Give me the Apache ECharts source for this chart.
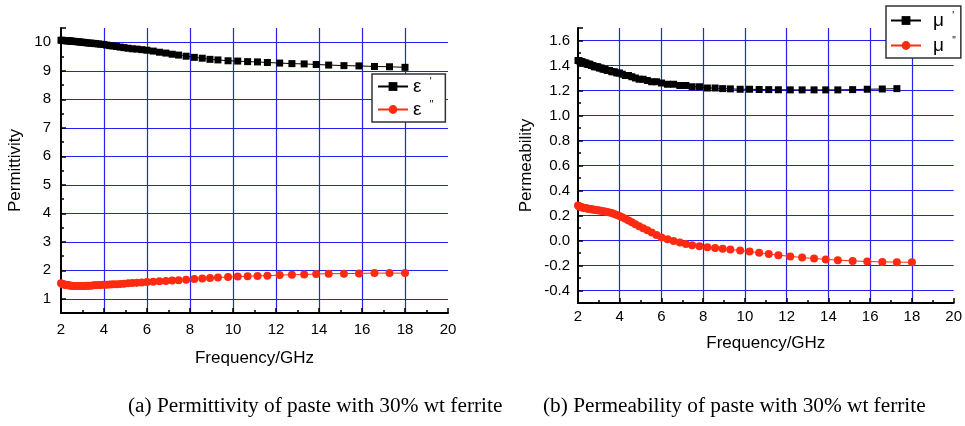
<!DOCTYPE html>
<html>
<head>
<meta charset="utf-8">
<script src="https://cdn.jsdelivr.net/npm/echarts@6/dist/echarts.min.js"></script>
<style>
html,body{margin:0;padding:0;background:#fff;}
#c{width:965px;height:426px;}
</style>
</head>
<body>
<div id="c"></div>
<script>
// Frequency points (GHz)
const freq = [2.00,2.05,2.10,2.15,2.20,2.26,2.32,2.38,2.44,2.50,
  2.57,2.64,2.71,2.78,2.86,2.94,3.02,3.11,3.20,3.30,
  3.40,3.51,3.62,3.74,3.86,3.99,4.12,4.27,4.42,4.58,
  4.75,4.93,5.12,5.32,5.53,5.76,6.00,6.29,6.58,6.88,
  7.17,7.47,7.82,8.20,8.57,8.93,9.30,9.77,10.22,10.68,
  11.14,11.60,12.17,12.74,13.31,13.87,14.45,15.16,15.86,16.58,
  17.28,18.00];

// (a) permittivity
const epsReal = [10.07,10.07,10.06,10.06,10.06,10.05,10.05,10.05,10.04,10.04,
  10.03,10.03,10.02,10.02,10.01,10.00,10.00,9.99,9.98,9.97,
  9.97,9.96,9.95,9.94,9.93,9.92,9.90,9.88,9.87,9.85,
  9.83,9.81,9.79,9.77,9.76,9.74,9.72,9.69,9.65,9.62,
  9.58,9.55,9.51,9.47,9.44,9.40,9.38,9.35,9.34,9.32,
  9.31,9.29,9.27,9.25,9.24,9.22,9.20,9.18,9.17,9.15,
  9.14,9.12];
const epsImag = [1.54,1.52,1.51,1.50,1.49,1.48,1.47,1.47,1.46,1.46,
  1.45,1.45,1.45,1.45,1.45,1.45,1.45,1.45,1.46,1.46,
  1.46,1.47,1.47,1.48,1.48,1.49,1.49,1.50,1.51,1.51,
  1.52,1.53,1.54,1.55,1.56,1.57,1.59,1.60,1.61,1.62,
  1.64,1.65,1.67,1.69,1.71,1.73,1.75,1.76,1.78,1.79,
  1.80,1.81,1.83,1.84,1.85,1.87,1.88,1.88,1.89,1.90,
  1.90,1.90];

// (b) permeability (mu' has no point at 18 GHz)
const muReal = [1.44,1.44,1.43,1.43,1.43,1.42,1.42,1.42,1.41,1.41,
  1.41,1.40,1.40,1.39,1.39,1.39,1.38,1.38,1.37,1.37,
  1.36,1.36,1.35,1.35,1.34,1.34,1.33,1.32,1.32,1.31,
  1.30,1.29,1.29,1.28,1.27,1.27,1.26,1.25,1.25,1.24,
  1.24,1.23,1.23,1.22,1.22,1.215,1.213,1.21,1.21,1.208,
  1.207,1.206,1.205,1.205,1.205,1.205,1.205,1.207,1.21,1.212,
  1.215];
const muImag = [0.28,0.275,0.27,0.268,0.265,0.263,0.26,0.258,0.256,0.254,
  0.252,0.25,0.248,0.246,0.244,0.242,0.24,0.238,0.235,0.232,
  0.229,0.225,0.22,0.213,0.205,0.196,0.186,0.174,0.16,0.146,
  0.131,0.115,0.099,0.082,0.064,0.045,0.024,0.01,-0.003,-0.016,
  -0.028,-0.037,-0.046,-0.053,-0.059,-0.066,-0.072,-0.08,-0.088,-0.098,
  -0.107,-0.117,-0.127,-0.136,-0.144,-0.151,-0.157,-0.163,-0.168,-0.171,
  -0.173,-0.174];

const xTicks = [2,4,6,8,10,12,14,16,18,20];
const captions = ['(a) Permittivity of paste with 30% wt ferrite', '(b) Permeability of paste with 30% wt ferrite'];
const names = ["ε'", 'ε"', "μ'", 'μ"'];

const pair = (ys) => ys.map((y, i) => [freq[i], y]);

const FONT = 'Liberation Sans, Arial, sans-serif';
const GRIDC = '#2323f0';

function xAxis(gi, gap, margin) {
  return {
    type: 'value', gridIndex: gi, min: xTicks[0], max: xTicks[xTicks.length - 1], interval: 2,
    axisLine: { show: true, onZero: false, lineStyle: { color: '#000', width: 2 } },
    axisTick: { show: true, inside: true, length: 5, lineStyle: { color: '#000', width: 1.5 } },
    minorTick: { show: true, splitNumber: 2, length: 3, lineStyle: { color: '#000', width: 1.5 } },
    splitLine: { show: true, showMinLine: false, showMaxLine: false, lineStyle: { color: GRIDC, width: 1.2 } },
    axisLabel: { color: '#000', fontSize: 15, fontFamily: FONT, margin: margin },
    name: 'Frequency/GHz', nameLocation: 'middle', nameGap: gap,
    nameTextStyle: { color: '#000', fontSize: 17, fontFamily: FONT }
  };
}

function yAxis(gi, min, max, split, name, gap, margin, fmt) {
  return {
    type: 'value', gridIndex: gi, min: min, max: max, splitNumber: split,
    axisLine: { show: true, onZero: false, lineStyle: { color: '#000', width: 2 } },
    axisTick: { show: true, inside: true, length: 5, lineStyle: { color: '#000', width: 1.5 } },
    minorTick: { show: true, splitNumber: 2, length: 3, lineStyle: { color: '#000', width: 1.5 } },
    splitLine: { show: true, showMinLine: false, showMaxLine: false, lineStyle: { color: GRIDC, width: 1.2 } },
    axisLabel: { color: '#000', fontSize: 15, fontFamily: FONT, margin: margin, showMinLabel: false, showMaxLabel: false, formatter: fmt },
    name: name, nameLocation: 'middle', nameGap: gap, nameRotate: 90,
    nameTextStyle: { color: '#000', fontSize: 17, fontFamily: FONT }
  };
}

function series(name, xi, data, color, symbol, size) {
  return {
    name: name, type: 'line', xAxisIndex: xi, yAxisIndex: xi, data: data,
    symbol: symbol, symbolSize: size, showAllSymbol: true,
    lineStyle: { color: color, width: 1 }, itemStyle: { color: color },
    animation: false
  };
}

function legend(data, left, top, padding, gap, textPad, sep) {
  return {
    data: data, left: left, top: top, orient: 'vertical',
    borderColor: '#333', borderWidth: 1.5, borderRadius: 0, backgroundColor: '#fff',
    padding: padding, itemGap: gap, itemWidth: 30, itemHeight: 11,
    textStyle: { color: '#000', fontSize: 15, fontFamily: FONT, lineHeight: 14,
      rich: {
        a: { fontSize: 19, color: '#000', fontFamily: FONT, lineHeight: 14, padding: [0, 0, 0, textPad] },
        p: { fontSize: 10, color: '#000', fontFamily: FONT, lineHeight: 14, padding: [0, 0, 9, 0] }
      } },
    formatter: (n) => '{a|' + n.charAt(0) + '}' + sep + '{p|' + n.slice(1) + '}'
  };
}

const chart = echarts.init(document.getElementById('c'), null, { renderer: 'canvas' });
chart.setOption({
  backgroundColor: '#fff',
  animation: false,
  grid: [
    { left: 61, top: 28, width: 387, height: 285 },
    { left: 578, top: 28, width: 377, height: 275 }
  ],
  xAxis: [xAxis(0, 37, 9), xAxis(1, 32, 6)],
  yAxis: [
    yAxis(0, 0.5, 10.5, 10, 'Permittivity', 37, 10, (v) => String(v)),
    yAxis(1, -0.5, 1.7, 11, 'Permeability', 43, 8, (v) => v.toFixed(1))
  ],
  legend: [
    legend([names[0], names[1]], 372, 74, [3, 12, 3, 5], 4, 0, '  '),
    legend([names[2], names[3]], 886, 6, [5, 5, 3, 4], 6, 7, '  ')
  ],
  series: [
    series(names[0], 0, pair(epsReal), '#000000', 'rect', 7),
    series(names[1], 0, pair(epsImag), '#ff2a12', 'circle', 8),
    series(names[2], 1, pair(muReal), '#000000', 'rect', 7),
    series(names[3], 1, pair(muImag), '#ff2a12', 'circle', 8)
  ],
  graphic: [
    { type: 'text', left: 128, top: 396, style: { text: captions[0], font: '21.3px "Liberation Serif", "Times New Roman", serif', fill: '#000' } },
    { type: 'text', left: 543, top: 396, style: { text: captions[1], font: '21.3px "Liberation Serif", "Times New Roman", serif', fill: '#000' } }
  ]
});
</script>
</body>
</html>
